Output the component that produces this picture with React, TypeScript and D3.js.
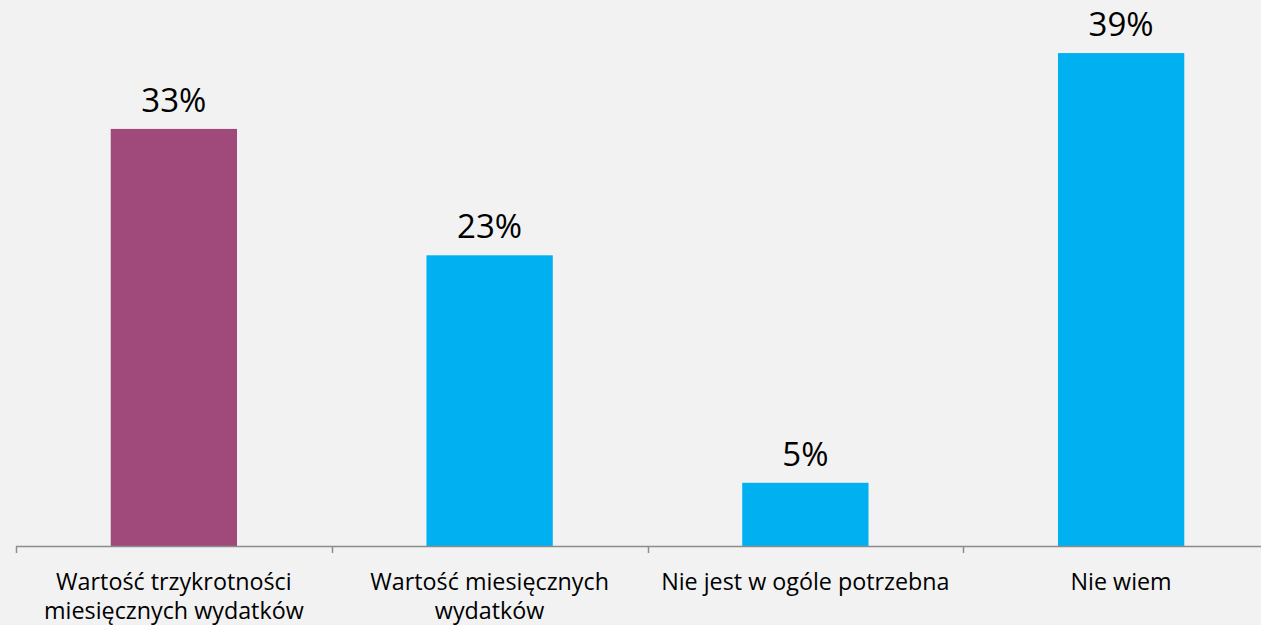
import React, { useEffect, useRef } from "react";
import * as d3 from "d3";

const categories: string[][] = [
  ["Wartość trzykrotności", "miesięcznych wydatków"],
  ["Wartość miesięcznych", "wydatków"],
  ["Nie jest w ogóle potrzebna"],
  ["Nie wiem"],
];
const values: number[] = [33, 23, 5, 39];
const barColors: string[] = ["#A04A7B", "#00B0F0", "#00B0F0", "#00B0F0"];

const W = 1261;
const H = 625;
const FONT = "'Open Sans', 'Noto Sans', sans-serif";

export default function App() {
  const ref = useRef<SVGSVGElement | null>(null);

  useEffect(() => {
    const svg = d3.select(ref.current);
    svg.selectAll("*").remove();

    const baseY = 546;
    const x = d3
      .scaleBand<number>()
      .domain(values.map((_, i) => i))
      .range([16, 1279])
      .paddingInner(0.6)
      .paddingOuter(0.3);
    const y = d3.scaleLinear().domain([0, 43.2]).range([baseY, 0]);

    svg.append("rect").attr("width", W).attr("height", H).attr("fill", "#F2F2F2");

    // bars
    svg
      .selectAll("rect.bar")
      .data(values)
      .enter()
      .append("rect")
      .attr("class", "bar")
      .attr("x", (_, i) => x(i)!)
      .attr("width", x.bandwidth())
      .attr("y", (d) => y(d))
      .attr("height", (d) => baseY - y(d))
      .attr("fill", (_, i) => barColors[i]);

    // value labels
    svg
      .selectAll("text.val")
      .data(values)
      .enter()
      .append("text")
      .attr("class", "val")
      .attr("x", (_, i) => x(i)! + x.bandwidth() / 2)
      .attr("y", (d) => y(d) - 17)
      .attr("text-anchor", "middle")
      .attr("font-family", FONT)
      .attr("font-size", 33)
      .attr("fill", "#000")
      .text((d) => `${d}%`);

    // axis line
    const step = x.step();
    const start = 16;
    svg
      .append("line")
      .attr("x1", start)
      .attr("x2", W)
      .attr("y1", baseY + 0.5)
      .attr("y2", baseY + 0.5)
      .attr("stroke", "#8C8C8C")
      .attr("stroke-width", 1.5);
    d3.range(values.length + 1).forEach((i) => {
      const tx = Math.round(start + i * step) + 0.5;
      svg
        .append("line")
        .attr("x1", tx)
        .attr("x2", tx)
        .attr("y1", baseY)
        .attr("y2", baseY + 7)
        .attr("stroke", "#8C8C8C")
        .attr("stroke-width", 1.5);
    });

    // category labels
    categories.forEach((lines, i) => {
      const cx = x(i)! + x.bandwidth() / 2;
      const t = svg
        .append("text")
        .attr("text-anchor", "middle")
        .attr("font-family", FONT)
        .attr("font-size", 23.3)
        .attr("fill", "#000");
      lines.forEach((ln, j) => {
        t.append("tspan")
          .attr("x", cx)
          .attr("y", 590 + j * 29)
          .text(ln);
      });
    });
  }, []);

  return (
    <div style={{ position: "absolute", left: 0, top: 0, width: W, height: H, overflow: "hidden" }}>
      <svg ref={ref} width={W} height={H} style={{ display: "block" }} />
    </div>
  );
}
